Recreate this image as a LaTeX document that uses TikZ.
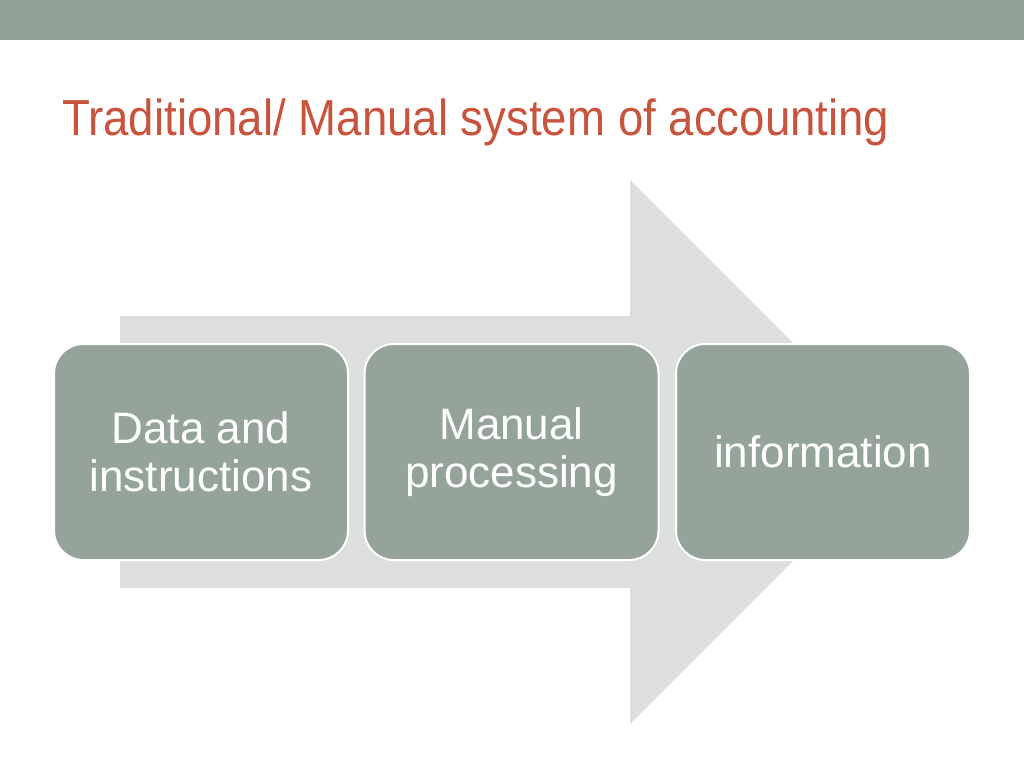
\documentclass[tikz,border=0pt]{standalone}
\usepackage{fontspec}
\setmainfont{Liberation Sans}
\definecolor{bar}{HTML}{92A098}
\definecolor{boxc}{HTML}{95A39A}
\definecolor{arr}{HTML}{DDDFDE}
\definecolor{ttl}{HTML}{C9543E}
\begin{document}
\begin{tikzpicture}[x=0.75pt,y=-0.75pt,
  stepbox/.style={draw=white,line width=1.5pt,fill=boxc,rounded corners=22pt,minimum width=220.5pt,minimum height=162pt,text=white,font=\fontsize{33}{36}\selectfont,align=center,inner sep=0pt}]
\useasboundingbox (0,0) rectangle (1024,768);
\fill[white] (0,0) rectangle (1024,768);
\fill[bar] (0,0) rectangle (1024,40);
\node[anchor=base west,inner sep=0pt,text=ttl,font=\fontsize{38}{40}\selectfont,xscale=0.9] (title) at (62,135) {Traditional/ Manual system of accounting};
\fill[arr] (120,316) -- (630,316) -- (630,180) -- (902,452) -- (630,724) -- (630,588) -- (120,588) -- cycle;
\node[stepbox] (a) at (201,452) {Data and\\instructions};
\node[stepbox] (b) at (511.5,452) {Manual\\processing};
\node[stepbox] (c) at (823,452) {information};
\end{tikzpicture}
\end{document}
